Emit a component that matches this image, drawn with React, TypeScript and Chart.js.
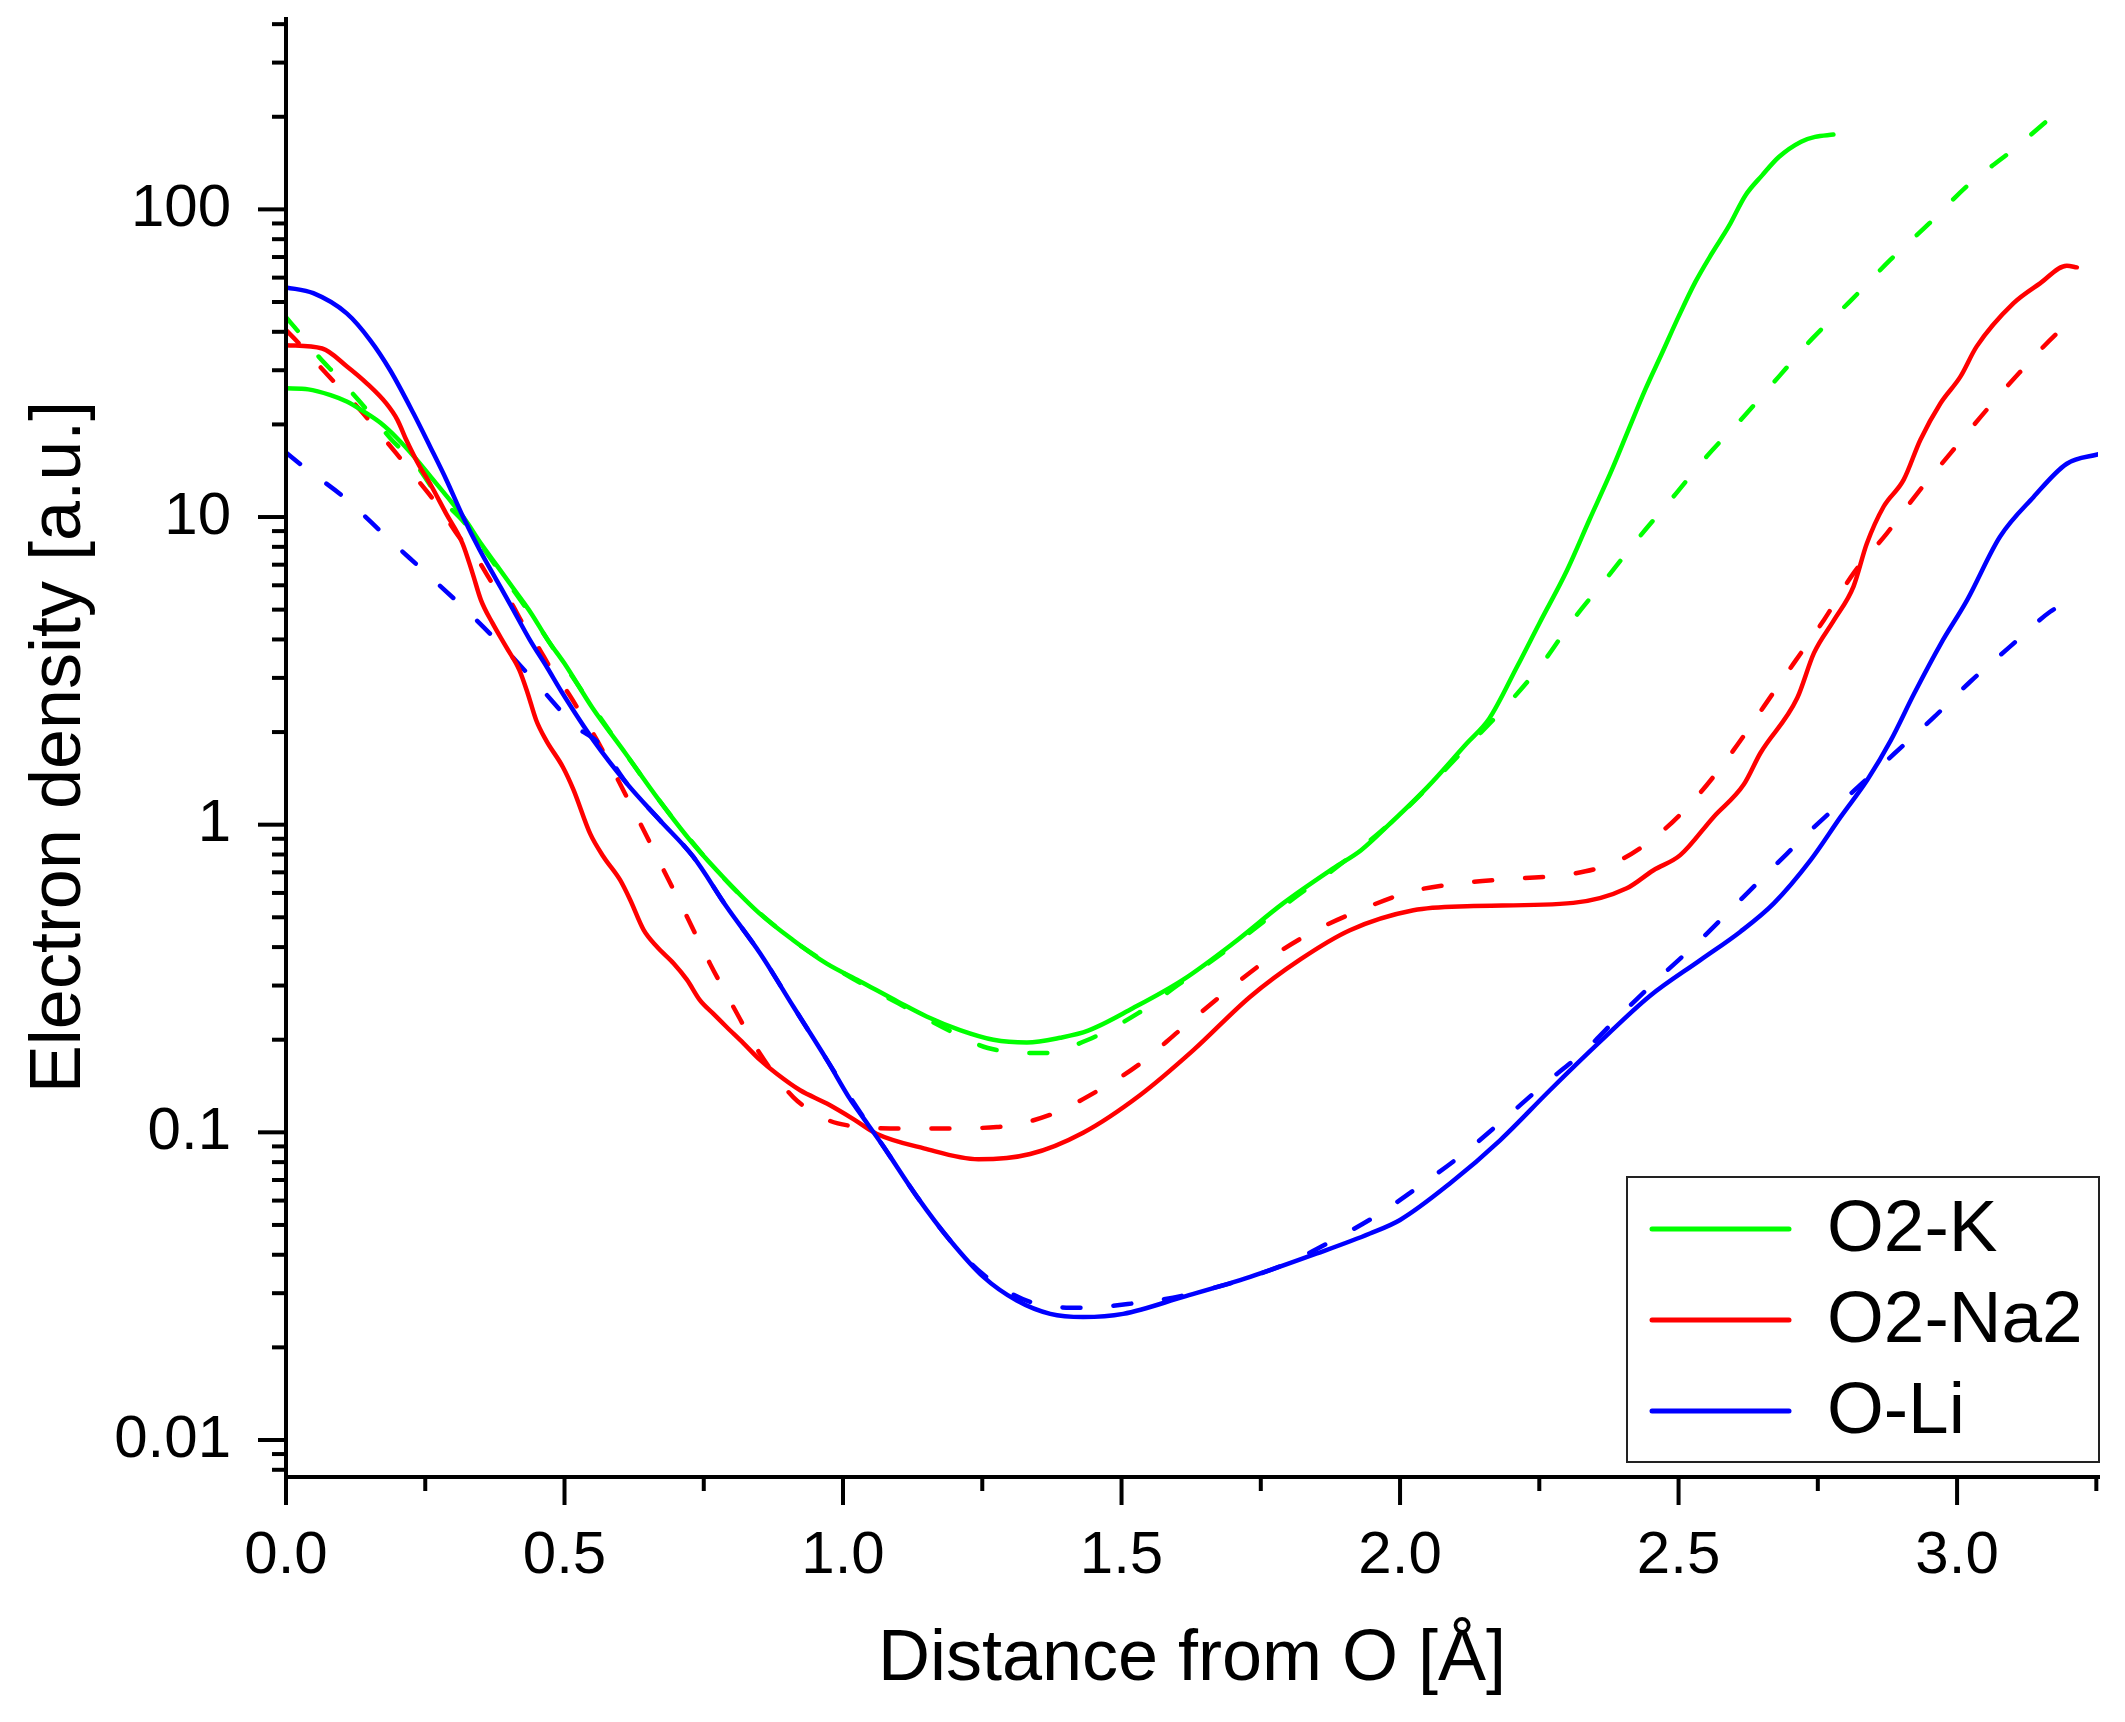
import React, { useEffect, useRef } from 'react';
import Chart from 'chart.js/auto';

// axis limits and labelled ticks
const xMin = 0;
const xMax = 3.253;
const yMin = 0.00758;
const yMax = 422;
const xMajorTicks = [0, 0.5, 1.0, 1.5, 2.0, 2.5, 3.0];
const yMajorTicks = [0.01, 0.1, 1, 10, 100];

const seriesLabels = ['O2-K', 'O2-Na2', 'O-Li'];
const seriesColors = ['#00ff00', '#ff0000', '#0000ff'];

// O2-K, solid
const kSolidX = [0, 0.04, 0.08, 0.11, 0.14, 0.17, 0.2, 0.23, 0.26, 0.29, 0.32, 0.35, 0.38, 0.41, 0.44, 0.47, 0.5, 0.55, 0.61, 0.67, 0.73, 0.79, 0.85, 0.91, 0.97, 1.03, 1.1, 1.15, 1.21, 1.27, 1.33, 1.39, 1.44, 1.52, 1.61, 1.7, 1.79, 1.88, 1.93, 1.98, 2.05, 2.12, 2.16, 2.21, 2.25, 2.3, 2.34, 2.38, 2.41, 2.44, 2.47, 2.5, 2.53, 2.56, 2.59, 2.62, 2.65, 2.68, 2.72, 2.745, 2.778];
const kSolidY = [26.2, 26, 24.9, 23.7, 22, 20.2, 18, 15.7, 13.5, 11.6, 9.9, 8.2, 6.9, 5.8, 4.87, 3.98, 3.34, 2.4, 1.7, 1.2, 0.87, 0.66, 0.515, 0.422, 0.354, 0.31, 0.265, 0.238, 0.215, 0.2, 0.196, 0.203, 0.214, 0.253, 0.313, 0.411, 0.555, 0.721, 0.826, 1.0, 1.33, 1.84, 2.21, 3.26, 4.51, 6.73, 9.8, 14.2, 19.2, 25.9, 34, 44.8, 58, 72, 88, 111, 129, 148, 166, 172, 175];

// O2-K, dashed
const kDashX = [0, 0.025, 0.06, 0.09, 0.13, 0.16, 0.19, 0.23, 0.27, 0.32, 0.38, 0.44, 0.5, 0.6, 0.7, 0.8, 0.9, 1.0, 1.1, 1.2, 1.26, 1.36, 1.44, 1.53, 1.6, 1.7, 1.8, 1.9, 2.0, 2.06, 2.12, 2.2, 2.26, 2.31, 2.37, 2.43, 2.49, 2.55, 2.62, 2.68, 2.74, 2.81, 2.88, 2.95, 3.02, 3.1, 3.17, 3.19];
const kDashY = [44.6, 39.5, 33, 28.9, 24, 20.7, 17.8, 15.1, 11.9, 9.6, 6.8, 4.8, 3.3, 1.8, 1.02, 0.63, 0.435, 0.33, 0.262, 0.21, 0.188, 0.181, 0.2, 0.244, 0.3, 0.405, 0.56, 0.76, 1.08, 1.38, 1.79, 2.54, 3.43, 4.62, 6.3, 8.63, 11.6, 15.7, 21.5, 28.6, 38, 50.7, 68.5, 90, 120, 156, 200, 215];

// O2-Na2, solid
const naSolidX = [0, 0.065, 0.11, 0.145, 0.18, 0.2, 0.216, 0.24, 0.258, 0.287, 0.317, 0.335, 0.35, 0.371, 0.395, 0.419, 0.434, 0.449, 0.467, 0.497, 0.516, 0.546, 0.57, 0.6, 0.618, 0.642, 0.666, 0.696, 0.72, 0.743, 0.767, 0.791, 0.821, 0.851, 0.881, 0.923, 0.971, 1.02, 1.06, 1.145, 1.243, 1.336, 1.431, 1.533, 1.629, 1.731, 1.821, 1.91, 2.024, 2.12, 2.311, 2.407, 2.455, 2.503, 2.563, 2.617, 2.647, 2.713, 2.743, 2.779, 2.814, 2.838, 2.868, 2.904, 2.934, 2.97, 3.006, 3.035, 3.101, 3.149, 3.197, 3.215];
const naSolidY = [36.2, 35.3, 30.8, 27.2, 23.4, 20.7, 17.8, 14.6, 12.9, 10.3, 8.2, 6.56, 5.37, 4.51, 3.79, 3.18, 2.67, 2.19, 1.88, 1.54, 1.3, 0.935, 0.787, 0.66, 0.569, 0.455, 0.401, 0.354, 0.313, 0.269, 0.243, 0.22, 0.195, 0.172, 0.155, 0.137, 0.124, 0.11, 0.099, 0.0887, 0.0817, 0.085, 0.0997, 0.132, 0.185, 0.276, 0.365, 0.454, 0.527, 0.543, 0.557, 0.621, 0.711, 0.796, 1.06, 1.35, 1.71, 2.58, 3.61, 4.62, 5.94, 8.2, 10.8, 13.2, 17.8, 23.4, 28.6, 35.8, 49.5, 57.5, 65.6, 64.8];

// O2-Na2, dashed
const naDashX = [0, 0.02, 0.067, 0.097, 0.136, 0.163, 0.198, 0.222, 0.258, 0.282, 0.311, 0.341, 0.371, 0.401, 0.425, 0.449, 0.479, 0.503, 0.533, 0.557, 0.63, 0.672, 0.714, 0.761, 0.803, 0.851, 0.911, 0.971, 1.013, 1.085, 1.18, 1.276, 1.372, 1.456, 1.533, 1.605, 1.683, 1.761, 1.844, 1.928, 2.018, 2.114, 2.21, 2.305, 2.395, 2.473, 2.539, 2.599, 2.653, 2.707, 2.761, 2.814, 2.874, 2.928, 2.988, 3.053, 3.113, 3.179, 3.194];
const naDashY = [40.5, 37.2, 30, 26.2, 22, 19.2, 16.1, 14.2, 11.8, 10.3, 8.6, 7.43, 6.08, 5.37, 4.51, 3.88, 3.14, 2.74, 2.24, 1.9, 1.06, 0.748, 0.528, 0.354, 0.256, 0.18, 0.13, 0.11, 0.105, 0.103, 0.103, 0.104, 0.114, 0.136, 0.167, 0.215, 0.282, 0.363, 0.449, 0.527, 0.605, 0.647, 0.668, 0.69, 0.767, 0.96, 1.27, 1.75, 2.42, 3.35, 4.63, 6.56, 8.85, 11.9, 16.1, 22.3, 29.6, 39.5, 41.6];

// O-Li, solid
const liSolidX = [0, 0.049, 0.109, 0.151, 0.187, 0.229, 0.259, 0.288, 0.318, 0.348, 0.378, 0.408, 0.438, 0.468, 0.495, 0.552, 0.612, 0.672, 0.731, 0.791, 0.851, 0.911, 0.971, 1.013, 1.031, 1.073, 1.133, 1.192, 1.252, 1.312, 1.372, 1.431, 1.503, 1.611, 1.731, 1.851, 1.946, 2.0, 2.09, 2.18, 2.269, 2.359, 2.449, 2.539, 2.611, 2.671, 2.737, 2.791, 2.839, 2.881, 2.923, 2.971, 3.018, 3.077, 3.137, 3.197, 3.254];
const liSolidY = [55.8, 53.4, 45.9, 37.6, 30, 21.7, 16.9, 13.2, 10, 7.8, 6.24, 4.99, 3.98, 3.26, 2.7, 1.88, 1.36, 1.03, 0.787, 0.541, 0.382, 0.256, 0.172, 0.128, 0.115, 0.0897, 0.0617, 0.0446, 0.0339, 0.0284, 0.0257, 0.0251, 0.0257, 0.0292, 0.0339, 0.0404, 0.0469, 0.0519, 0.0683, 0.0944, 0.137, 0.197, 0.278, 0.363, 0.449, 0.555, 0.767, 1.06, 1.4, 1.88, 2.67, 3.88, 5.37, 8.63, 11.6, 14.9, 16];

// O-Li, dashed
const liDashX = [0, 0.031, 0.109, 0.18, 0.252, 0.323, 0.389, 0.455, 0.521, 0.56, 0.612, 0.672, 0.731, 0.791, 0.851, 0.911, 0.971, 1.013, 1.073, 1.133, 1.192, 1.252, 1.336, 1.431, 1.521, 1.611, 1.79, 1.88, 1.964, 2.042, 2.114, 2.186, 2.258, 2.33, 2.395, 2.467, 2.539, 2.605, 2.677, 2.743, 2.815, 2.887, 2.959, 3.024, 3.095, 3.167, 3.19];
const liDashY = [16.2, 14.6, 11.4, 8.63, 6.56, 4.99, 3.79, 2.81, 2.08, 1.85, 1.36, 1.03, 0.787, 0.541, 0.382, 0.256, 0.172, 0.13, 0.0897, 0.0617, 0.0446, 0.0345, 0.0281, 0.0269, 0.0278, 0.0295, 0.037, 0.0446, 0.0545, 0.0683, 0.0853, 0.11, 0.143, 0.183, 0.24, 0.32, 0.422, 0.555, 0.748, 0.98, 1.29, 1.7, 2.24, 2.92, 3.79, 4.92, 5.2];

const FONT = '"Liberation Sans", Arial, sans-serif';

const toPoints = (xs: number[], ys: number[]) => xs.map((x, i) => ({ x, y: ys[i] }));

const lineSet = (label: string, xs: number[], ys: number[], color: string, dashed: boolean) => ({
  label,
  data: toPoints(xs, ys),
  borderColor: color,
  backgroundColor: color,
  borderWidth: 4.5,
  borderDash: dashed ? [18, 33] : [],
  borderCapStyle: 'round' as const,
  borderJoinStyle: 'round' as const,
  pointRadius: 0,
  cubicInterpolationMode: 'monotone' as const,
  fill: false,
  inLegend: !dashed,
});

// draws Origin-style outward ticks, axis lines and the boxed legend
const originAxes = {
  id: 'originAxes',
  afterDraw(chart: any) {
    const { ctx, chartArea, scales } = chart;
    const xs = scales.x;
    const ys = scales.y;
    const left = chartArea.left;
    const bottom = chartArea.bottom;
    ctx.save();
    ctx.strokeStyle = '#000';
    ctx.lineWidth = 4;
    ctx.lineCap = 'butt';

    const yTick = (v: number, len: number) => {
      const p = ys.getPixelForValue(v);
      ctx.beginPath();
      ctx.moveTo(left - len, p);
      ctx.lineTo(left, p);
      ctx.stroke();
    };
    const xTick = (v: number, len: number) => {
      const p = xs.getPixelForValue(v);
      ctx.beginPath();
      ctx.moveTo(p, bottom);
      ctx.lineTo(p, bottom + len);
      ctx.stroke();
    };

    yMajorTicks.forEach((v) => yTick(v, 28));
    for (let e = -3; e <= 2; e++) {
      for (let m = 2; m <= 9; m++) {
        const v = m * Math.pow(10, e);
        if (v >= yMin && v <= yMax) yTick(v, 14);
      }
    }
    xMajorTicks.forEach((v) => xTick(v, 28));
    for (let v = 0.25; v <= xMax + 1e-6; v += 0.5) xTick(v, 14);

    ctx.beginPath();
    ctx.moveTo(left, chartArea.top);
    ctx.lineTo(left, bottom);
    ctx.moveTo(left - 2, bottom);
    ctx.lineTo(chartArea.right + 2, bottom);
    ctx.stroke();

    // legend box, entries in series order
    const entries = seriesLabels
      .map((name) => chart.data.datasets.find((d: any) => d.inLegend && d.label === name))
      .filter(Boolean);
    const boxW = 472;
    const boxH = 285;
    const bx = chartArea.right - boxW + 1;
    const by = bottom - 15 - boxH;
    ctx.fillStyle = '#fff';
    ctx.fillRect(bx, by, boxW, boxH);
    ctx.strokeStyle = '#222';
    ctx.lineWidth = 2;
    ctx.strokeRect(bx, by, boxW, boxH);
    ctx.font = `73px ${FONT}`;
    ctx.textBaseline = 'middle';
    ctx.textAlign = 'left';
    entries.forEach((d: any, i: number) => {
      const cy = by + 52 + i * 91;
      ctx.strokeStyle = d.borderColor;
      ctx.lineWidth = 5;
      ctx.lineCap = 'round';
      ctx.beginPath();
      ctx.moveTo(bx + 25, cy);
      ctx.lineTo(bx + 162, cy);
      ctx.stroke();
      ctx.fillStyle = '#000';
      ctx.fillText(d.label, bx + 200, cy + 2);
    });
    ctx.restore();
  },
};

const App: React.FC = () => {
  const canvasRef = useRef<HTMLCanvasElement | null>(null);

  useEffect(() => {
    if (!canvasRef.current) return;
    const ctx = canvasRef.current.getContext('2d');
    if (!ctx) return;

    const chart = new Chart(ctx, {
      type: 'line',
      data: {
        datasets: [
          lineSet(seriesLabels[2], liSolidX, liSolidY, seriesColors[2], false),
          lineSet(seriesLabels[1], naSolidX, naSolidY, seriesColors[1], false),
          lineSet(seriesLabels[0], kSolidX, kSolidY, seriesColors[0], false),
          lineSet(seriesLabels[2] + ' dashed', liDashX, liDashY, seriesColors[2], true),
          lineSet(seriesLabels[1] + ' dashed', naDashX, naDashY, seriesColors[1], true),
          lineSet(seriesLabels[0] + ' dashed', kDashX, kDashY, seriesColors[0], true),
        ].map((d, i) => ({ ...d, order: i })) as any,
      },
      options: {
        animation: false,
        responsive: true,
        maintainAspectRatio: false,
        devicePixelRatio: 1,
        layout: { padding: { left: 0, top: 17, right: 27, bottom: 0 } },
        plugins: {
          legend: { display: false },
          tooltip: { enabled: false },
        },
        scales: {
          x: {
            type: 'linear',
            min: xMin,
            max: xMax,
            grid: { display: false, drawTicks: false },
            border: { display: false },
            afterBuildTicks: (scale: any) => {
              scale.ticks = xMajorTicks.map((value) => ({ value }));
            },
            afterFit: (scale: any) => {
              scale.height = 245;
              scale.paddingLeft = 0;
              scale.paddingRight = 0;
            },
            ticks: {
              autoSkip: false,
              maxRotation: 0,
              padding: 43,
              color: '#000',
              font: { family: FONT, size: 60 },
              callback: (v: any) => Number(v).toFixed(1),
            },
            title: {
              display: true,
              text: 'Distance from O [Å]',
              color: '#000',
              font: { family: FONT, size: 72 },
              padding: { bottom: 19 },
            },
          },
          y: {
            type: 'logarithmic',
            min: yMin,
            max: yMax,
            grid: { display: false, drawTicks: false },
            border: { display: false },
            afterBuildTicks: (scale: any) => {
              scale.ticks = yMajorTicks.map((value) => ({ value }));
            },
            afterFit: (scale: any) => {
              scale.width = 286;
              scale.paddingTop = 0;
              scale.paddingBottom = 0;
            },
            ticks: {
              autoSkip: false,
              padding: 55,
              color: '#000',
              font: { family: FONT, size: 60 },
              callback: (v: any) => String(v),
            },
            title: {
              display: true,
              text: 'Electron density [a.u.]',
              color: '#000',
              font: { family: FONT, size: 72 },
              padding: { top: 17 },
            },
          },
        },
      },
      plugins: [originAxes],
    });

    return () => {
      chart.destroy();
    };
  }, []);

  return (
    <div style={{ position: 'absolute', left: 0, top: 0, width: 2125, height: 1722, background: '#fff' }}>
      <canvas ref={canvasRef} />
    </div>
  );
};

export default App;
